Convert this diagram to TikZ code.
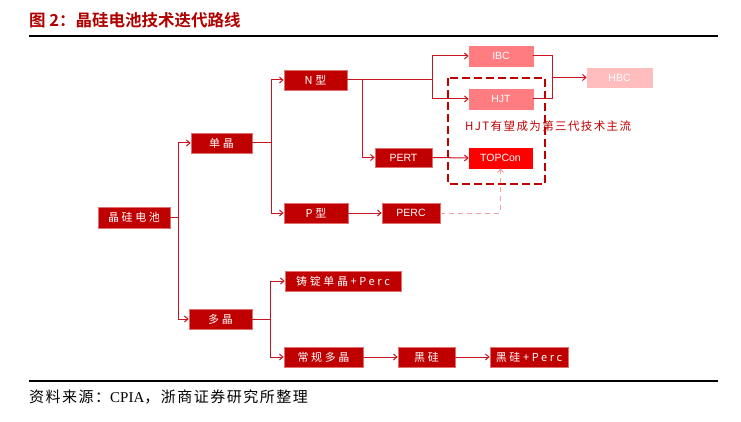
\documentclass[tikz,border=0pt]{standalone}
\usepackage{fontspec}
\setmainfont{Liberation Sans}
\newfontfamily\cjk[BoldFont={Noto Sans CJK SC Bold}]{Noto Sans CJK SC}
\newfontfamily\kai[LetterSpace=24]{Noto Sans CJK SC}
\newfontfamily\kaiA[LetterSpace=12]{Noto Sans CJK SC}
\newfontfamily\song[LetterSpace=10]{Noto Sans CJK SC}
\newfontfamily\serifL{Liberation Serif}
\usetikzlibrary{arrows.meta,calc}
\definecolor{dred}{HTML}{C00000}
\definecolor{edge}{HTML}{E07070}
\definecolor{lred}{HTML}{C8141E}
\definecolor{pinkA}{HTML}{FF7C80}
\definecolor{pinkB}{HTML}{FFBDBD}
\definecolor{bred}{HTML}{FF0000}
\definecolor{titlered}{HTML}{B00000}
\definecolor{dashpink}{HTML}{F4A0A0}
\tikzset{
  box/.style={draw=edge, fill=dred, text=white, minimum height=20pt, inner sep=0pt, line width=0.6pt, font=\kai\fontsize{11}{13}\selectfont},
  latbox/.style={box, font=\fontsize{10.5}{12}\selectfont},
  wire/.style={draw=lred, line width=1pt},
  conn/.style={wire, -{Straight Barb[length=3.5pt,width=6pt]}},
}
\begin{document}
\begin{tikzpicture}[x=1pt,y=-1pt]
\useasboundingbox (0,0) rectangle (741,422);
\fill[white] (0,0) rectangle (741,422);
\node[anchor=west, text=titlered, font=\cjk\bfseries\fontsize{16.5}{19}\selectfont, inner sep=0] (title) at (29,20) {图 2：晶硅电池技术迭代路线};
\draw[line width=1.2pt] (29,36) -- (718,36);
\draw[line width=1.2pt] (29,381) -- (718,381);
\node[anchor=west, font=\song\fontsize{15}{17}\selectfont, inner sep=0] (src) at (29,397) {资料来源：{\serifL CPIA}，浙商证券研究所整理};

% nodes
\node[box, minimum width=72pt, minimum height=21pt] (jg) at (134,217.5) {晶硅电池};
\node[box, minimum width=61pt] (dj) at (221.5,143) {单晶};
\node[box, minimum width=63pt] (N) at (315.5,80) {N型};
\node[latbox, minimum width=57pt, minimum height=19pt] (PERT) at (403.5,157.5) {PERT};
\node[box, minimum width=64pt] (P) at (316,213) {P型};
\node[latbox, minimum width=58pt] (PERC) at (411,213) {PERC};
\node[latbox, minimum width=64pt, fill=pinkA, draw=pinkA] (IBC) at (501,56) {IBC};
\node[latbox, minimum width=64pt, fill=pinkA, draw=pinkA] (HJT) at (501,99) {HJT};
\node[latbox, minimum width=65pt, minimum height=19pt, fill=pinkB, draw=pinkB] (HBC) at (619.5,77.5) {HBC};
\node[latbox, minimum width=63pt, fill=bred, draw=bred] (TOP) at (500.5,158) {TOPCon};
\node[box, minimum width=63pt] (duo) at (220.5,319) {多晶};
\node[box, minimum width=116pt] (zd) at (343,281) {铸锭单晶+Perc};
\node[box, minimum width=79pt] (cg) at (323.5,357) {常规多晶};
\node[box, minimum width=57pt] (hs) at (426.5,357) {黑硅};
\node[box, minimum width=78pt] (hsp) at (529,357) {黑硅+Perc};

% connectors
\coordinate (t1) at ($(jg.east)+(8,0)$);
\draw[wire] (jg.east) -- (t1);
\draw[wire] (t1 |- dj) -- (t1 |- duo);
\draw[conn] (t1 |- dj) -- (dj.west);
\draw[conn] (t1 |- duo) -- (duo.west);

\coordinate (t2) at ($(dj.east)+(19,0)$);
\draw[wire] (dj.east) -- (t2);
\draw[wire] (t2 |- N) -- (t2 |- P);
\draw[conn] (t2 |- N) -- (N.west);
\draw[conn] (t2 |- P) -- (P.west);

\coordinate (t3) at (432,80);
\coordinate (t4) at (362,80);
\draw[wire] (N.east) -- (t3);
\draw[wire] (t3 |- IBC) -- (t3 |- HJT);
\draw[conn] (t3 |- IBC) -- (IBC.west);
\draw[conn] (t3 |- HJT) -- (HJT.west);
\draw[conn] (t4) |- (PERT.west);
\draw[conn] (PERT.east) -- (TOP.west);

\coordinate (hb) at (552,77.5);
\draw[wire] (IBC.east) -- (IBC.east -| hb) -- (HJT.east -| hb) -- (HJT.east);
\draw[conn] (hb) -- (HBC.west);

\draw[conn] (P.east) -- (PERC.west);
\draw[draw=dashpink, line width=1pt, dash pattern=on 5pt off 4pt, -{Straight Barb[length=3.5pt,width=6pt]}] (PERC.east) -- (TOP.south |- PERC) -- (TOP.south);

\coordinate (t5) at ($(duo.east)+(18,0)$);
\draw[wire] (duo.east) -- (t5);
\draw[wire] (t5 |- zd) -- (t5 |- cg);
\draw[conn] (t5 |- zd) -- (zd.west);
\draw[conn] (t5 |- cg) -- (cg.west);
\draw[conn] (cg.east) -- (hs.west);
\draw[conn] (hs.east) -- (hsp.west);

% highlight
\draw[dred, line width=1.8pt, dash pattern=on 8pt off 4pt] (448,78) rectangle (545,184);
\node[anchor=west, text=dred, font=\kaiA\fontsize{11.5}{13}\selectfont, inner sep=0] (note) at (465,126) {HJT有望成为第三代技术主流};
\end{tikzpicture}
\end{document}
